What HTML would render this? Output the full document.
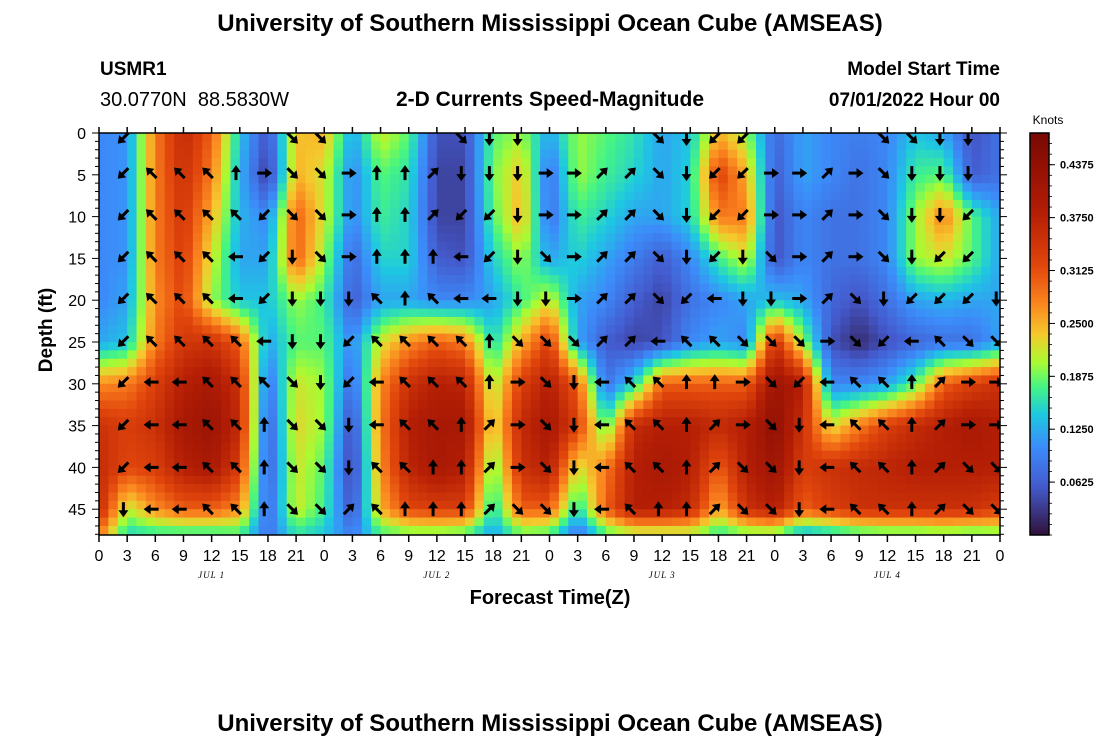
<!DOCTYPE html>
<html><head><meta charset="utf-8">
<style>
body{margin:0;background:#fff;}
svg{display:block;font-family:"Liberation Sans",sans-serif;}
</style></head>
<body>
<svg id="chart" width="1100" height="750" viewBox="0 0 1100 750">
<text x="550" y="31" text-anchor="middle" font-size="24" font-weight="bold">University of Southern Mississippi Ocean Cube (AMSEAS)</text>
<text x="100" y="75" font-size="19" font-weight="bold">USMR1</text>
<text x="100" y="106" font-size="20">30.0770N&#160;&#160;88.5830W</text>
<text x="550" y="106" text-anchor="middle" font-size="21" font-weight="bold">2-D Currents Speed-Magnitude</text>
<text x="1000" y="75" text-anchor="end" font-size="19" font-weight="bold">Model Start Time</text>
<text x="1000" y="106" text-anchor="end" font-size="19" font-weight="bold">07/01/2022 Hour 00</text>
<text transform="translate(52,330) rotate(-90)" text-anchor="middle" font-size="19" font-weight="bold">Depth (ft)</text>
<text x="550" y="604" text-anchor="middle" font-size="20" font-weight="bold">Forecast Time(Z)</text>
<text x="1048" y="124" text-anchor="middle" font-size="12">Knots</text>
<text x="550" y="731" text-anchor="middle" font-size="24" font-weight="bold">University of Southern Mississippi Ocean Cube (AMSEAS)</text>
<defs><clipPath id="plotclip"><rect x="99" y="133" width="901" height="402"/></clipPath></defs>
<g id="heat" clip-path="url(#plotclip)"></g>
<g id="arrows" clip-path="url(#plotclip)"></g>
<g id="axes"></g>
<g id="cbar"></g>
</svg>
<script>
// ---- data ----
const hours = [0,3,6,9,12,15,18,21,24,27,30,33,36,39,42,45,48,51,54,57,60,63,66,69,72,75,78,81,84,87,90,93,96];
const depths = [0,5,10,15,20,25,30,35,40,45,48];
// speed (knots) per time column, ordered by depth
const speedCols = [
[.10,.10,.10,.10,.10,.12,.27,.35,.36,.36,.28],
[.11,.11,.11,.11,.12,.14,.28,.33,.32,.21,.15],
[.28,.28,.28,.28,.27,.28,.33,.35,.33,.27,.16],
[.36,.35,.34,.33,.32,.34,.38,.40,.38,.30,.16],
[.30,.28,.25,.22,.20,.35,.40,.42,.40,.30,.16],
[.14,.13,.13,.12,.14,.30,.35,.36,.33,.27,.17],
[.05,.03,.10,.12,.14,.12,.08,.06,.06,.07,.08],
[.24,.25,.30,.30,.20,.18,.22,.23,.22,.22,.16],
[.25,.22,.22,.20,.17,.18,.20,.20,.18,.17,.14],
[.12,.10,.10,.07,.06,.10,.07,.04,.03,.05,.09],
[.22,.18,.17,.15,.12,.22,.27,.28,.27,.25,.17],
[.18,.16,.15,.15,.12,.27,.35,.38,.37,.32,.18],
[.05,.04,.04,.06,.10,.30,.38,.40,.40,.33,.18],
[.05,.04,.04,.05,.10,.28,.37,.40,.38,.33,.17],
[.18,.19,.18,.15,.12,.15,.20,.22,.18,.15,.12],
[.20,.24,.25,.20,.17,.25,.33,.36,.35,.30,.18],
[.12,.08,.08,.12,.22,.33,.38,.40,.38,.30,.17],
[.20,.20,.17,.15,.12,.12,.30,.33,.22,.15,.08],
[.18,.17,.15,.12,.10,.06,.08,.17,.28,.30,.17],
[.16,.15,.12,.09,.06,.04,.15,.36,.38,.38,.20],
[.12,.12,.12,.06,.04,.05,.30,.38,.40,.38,.20],
[.14,.15,.15,.10,.08,.10,.30,.38,.38,.36,.20],
[.25,.33,.28,.17,.10,.12,.30,.36,.30,.25,.16],
[.20,.25,.28,.22,.12,.10,.30,.38,.38,.35,.18],
[.07,.06,.05,.05,.14,.35,.42,.44,.42,.38,.18],
[.12,.12,.10,.10,.12,.20,.38,.35,.33,.30,.12],
[.10,.10,.08,.08,.07,.05,.10,.22,.35,.33,.14],
[.09,.08,.08,.08,.05,.02,.10,.28,.36,.35,.16],
[.10,.10,.10,.10,.08,.05,.12,.33,.37,.35,.17],
[.14,.17,.20,.20,.12,.07,.18,.36,.38,.35,.17],
[.12,.18,.28,.22,.13,.08,.30,.38,.38,.35,.18],
[.05,.06,.18,.18,.12,.08,.33,.40,.38,.35,.17],
[.08,.08,.12,.12,.12,.12,.35,.38,.38,.33,.18]
];
const arrowHours = [3,6,9,12,15,18,21,24,27,30,33,36,39,42,45,48,51,54,57,60,63,66,69,72,75,78,81,84,87,90,93,96];
const arrowDepths = [0.6,4.8,9.8,14.8,19.8,24.9,29.8,34.9,40,45];
const arrowDirs = [
"SW SW SW SW SW SW SW SW SW S","- NW NW NW NW NW W W W W","- NW NW NW NW NW W W W W","- NW NW NW NW NW NW NW NW NW",
"- N NW W W NW NW NW NW NW","- E SW SW SW W NW N N N","SE SE SE S S S SE SE SE SE","SE SE SE SE S S S SE SE SE",
"- E E E S SW SW S S NE","- N N N NW NW W W NW NW","- N N N N NW NW NW NW N","- NE NE N NW NW NW NW N N",
"SE S SW W W NW NW N N N","S S SW SW W N N NE NE NE","S S S S S SE E E E SE","- E E SE S SE SE SE SE SE",
"- E E E E SE S S S S","- NE NE NE NE NE W W W W","- NE NE NE NE NE NW NW NW NW","SE SE SE SE SE W NW NW NW N",
"S S S S SW NW N N N N","SW SW SW SW W NW N NE NE NE","SW SW SW S S SE E E SE SE","- E E SE S SE SE SE SE SE",
"- E E E E SE SW S S S","- NE NE NE NE E W W W W","- E E E SE SE NW NW NW NW","SE SE SE SE S SW NW NW NW NW",
"SE S S S SW W N N N N","S S S SW SW NW NE NE NE NE","S S SW SW SW SE E E SE SE","- - - - S SE E E SE SE"
];
const yTicks = [0,5,10,15,20,25,30,35,40,45];
const xTickLabels = ["0","3","6","9","12","15","18","21"];
const dayLabels = ["JUL 1","JUL 2","JUL 3","JUL 4"];
const cbarTicks = [0.0625,0.125,0.1875,0.25,0.3125,0.375,0.4375];

// ---- scales ----
const X0=99,X1=1000,Y0=133,PXF=8.36;
const x = h => X0 + (X1-X0)*h/96;
const y = d => Y0 + d*PXF;
const VMAX=0.475;
const stops=[[0,[48,18,59]],[0.12,[68,90,205]],[0.22,[60,140,250]],[0.3,[30,200,225]],[0.37,[70,245,130]],[0.43,[170,250,50]],[0.5,[245,200,45]],[0.58,[250,130,30]],[0.67,[225,70,12]],[0.8,[180,30,5]],[1,[122,8,4]]];
function color(v){
  let t=Math.max(0,Math.min(1,v/VMAX));
  for(let i=1;i<stops.length;i++){
    if(t<=stops[i][0]){const a=stops[i-1],b=stops[i],f=(t-a[0])/(b[0]-a[0]);
      return 'rgb('+a[1].map((c,j)=>Math.round(c+(b[1][j]-c)*f)).join(',')+')';}
  }
  return 'rgb(122,8,4)';
}
function interp(arr,val){
  let i=0; while(i<arr.length-2 && val>arr[i+1]) i++;
  return [i,Math.max(0,Math.min(1,(val-arr[i])/(arr[i+1]-arr[i])))];
}
function speedAt(h,d){
  const [i,fx]=interp(hours,h),[j,fy]=interp(depths,d);
  const a=speedCols[i][j],b=speedCols[i+1][j],c=speedCols[i][j+1],e=speedCols[i+1][j+1];
  return (a*(1-fx)+b*fx)*(1-fy)+(c*(1-fx)+e*fx)*fy;
}
const NS='http://www.w3.org/2000/svg';
function mk(tag,attrs,parent){const el=document.createElementNS(NS,tag);for(const k in attrs)el.setAttribute(k,attrs[k]);parent.appendChild(el);return el;}

// ---- heatmap ----
const heat=document.getElementById('heat');
const DH=1,DD=1;
for(let h=0;h<96;h+=DH){
  for(let d=0;d<48.2;d+=DD){
    const r=mk('rect',{x:x(h).toFixed(2),y:y(d).toFixed(2),width:(x(h+DH)-x(h)+0.6).toFixed(2),height:(DD*PXF+0.6).toFixed(2),fill:color(speedAt(h+DH/2,d+DD/2))},heat);
    
    
  }
}
// ---- arrows ----
const ang={E:0,SE:45,S:90,SW:135,W:180,NW:225,N:270,NE:315};
const arrows=document.getElementById('arrows');
arrowHours.forEach((h,i)=>{
  const toks=arrowDirs[i].split(' ');
  arrowDepths.forEach((d,j)=>{
    const t=toks[j]; if(!t||t==='-')return;
    const g=mk('g',{transform:`translate(${x(h-0.4).toFixed(1)},${y(d).toFixed(1)}) rotate(${ang[t]})`},arrows);
    
    
    mk('line',{x1:-7,y1:0,x2:3,y2:0,stroke:'#000','stroke-width':3},g);
    mk('path',{d:'M8,0 L1,-5 L1,5 Z',fill:'#000'},g);
  });
});
// ---- axes ----
const ax=document.getElementById('axes');
mk('rect',{x:X0,y:Y0,width:X1-X0,height:402,fill:'none',stroke:'#000','stroke-width':1.5},ax);
for(let d=0;d<=48;d++){
  const L=d%5===0?7:4;
  mk('line',{x1:X0-L,y1:y(d),x2:X0,y2:y(d),stroke:'#000','stroke-width':1},ax);
  mk('line',{x1:X1,y1:y(d),x2:X1+L,y2:y(d),stroke:'#000','stroke-width':1},ax);
}
yTicks.forEach(v=>{
  const t=mk('text',{x:86,y:y(v)+6,'text-anchor':'end','font-size':16},ax);t.textContent=v;
  
  
});
for(let h=0;h<=96;h+=3){
  mk('line',{x1:x(h),y1:535,x2:x(h),y2:542,stroke:'#000','stroke-width':1.5},ax);
  mk('line',{x1:x(h),y1:133,x2:x(h),y2:127,stroke:'#000','stroke-width':1.5},ax);
  const t=mk('text',{x:x(h),y:561,'text-anchor':'middle','font-size':16},ax);
  t.textContent=xTickLabels[(h/3)%8];
  
  
}
dayLabels.forEach((s,i)=>{
  const t=mk('text',{x:x(24*i+12),y:578,'text-anchor':'middle','font-size':9,'font-style':'italic','font-family':'Liberation Serif, serif','letter-spacing':1},ax);
  t.textContent=s;
  
  
});
// ---- colorbar ----
const cb=document.getElementById('cbar');
const CX=1030,CW=19,CT=133,CB=535;
const cv=v=>CB-(CB-CT)*v/VMAX;
for(let p=CT;p<CB;p+=2){
  const v=(CB-p-1)/(CB-CT)*VMAX;
  const r=mk('rect',{x:CX,y:p,width:CW,height:2.5,fill:color(v)},cb);
  
  
}
mk('rect',{x:CX,y:CT,width:CW,height:CB-CT,fill:'none',stroke:'#000','stroke-width':1.5},cb);
for(let v=0;v<VMAX;v+=0.0625/5){mk('line',{x1:CX+CW,y1:cv(v),x2:CX+CW+3,y2:cv(v),stroke:'#000','stroke-width':0.8},cb);}
cbarTicks.forEach(v=>{
  mk('line',{x1:CX+CW,y1:cv(v),x2:CX+CW+6,y2:cv(v),stroke:'#000','stroke-width':1},cb);
  const t=mk('text',{x:1060,y:cv(v)+4,'font-size':11,'font-weight':'bold'},cb);t.textContent=v.toFixed(4);
  
  
});
</script>
</body></html>
